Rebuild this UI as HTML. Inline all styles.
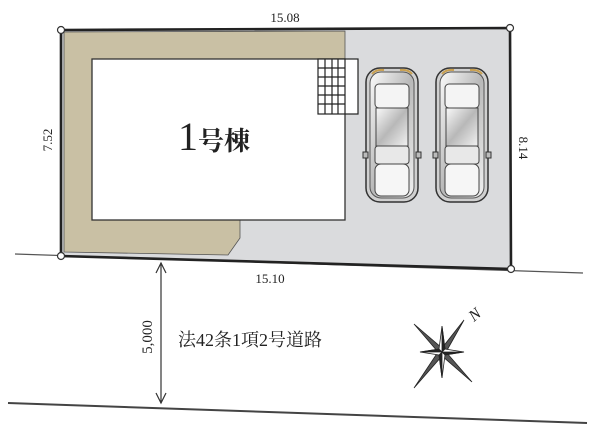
<!DOCTYPE html>
<html><head><meta charset="utf-8"><style>
html,body{margin:0;padding:0;background:#fff;width:600px;height:440px;overflow:hidden}
svg{display:block}
text{font-family:"Liberation Serif","Noto Serif CJK SC",serif;fill:#222}
</style></head><body>
<svg width="600" height="440" viewBox="0 0 600 440" xmlns="http://www.w3.org/2000/svg">
<defs>
<linearGradient id="cg" x1="0" y1="0" x2="1" y2="1">
<stop offset="0" stop-color="#fafafa"/><stop offset="0.5" stop-color="#b8b8b8"/><stop offset="1" stop-color="#f2f2f2"/>
</linearGradient>
<g id="car">
<rect x="0" y="0" width="52" height="134" rx="14" fill="#d0d0d0" stroke="#333" stroke-width="1.5"/>
<rect x="4" y="4" width="44" height="126" rx="11" fill="url(#cg)" stroke="#555" stroke-width="1"/>
<rect x="9" y="16" width="34" height="24" rx="4" fill="#f4f4f4" stroke="#444"/>
<rect x="10" y="40" width="32" height="38" fill="url(#cg)" stroke="#444"/>
<rect x="9" y="78" width="34" height="18" rx="3" fill="#e8e8e8" stroke="#444"/>
<rect x="9" y="96" width="34" height="32" rx="6" fill="#f6f6f6" stroke="#444"/>
<rect x="-3" y="84" width="5" height="6" fill="#bbb" stroke="#333"/>
<rect x="50" y="84" width="5" height="6" fill="#bbb" stroke="#333"/>
<path d="M6 6 Q10 1 18 2 M46 6 Q42 1 34 2" stroke="#c9a050" stroke-width="2" fill="none"/>
</g>
</defs>
<line x1="15" y1="254" x2="583" y2="273" stroke="#555" stroke-width="1.2"/>
<line x1="8" y1="403" x2="587" y2="423" stroke="#444" stroke-width="2"/>
<polygon points="61,30 510,28 511,269 61,256" fill="#dadbdd"/>
<path d="M64,32 L345,31 L345,59 L92,59 L92,220 L240,220 L240,238 L228,255 L64,252 Z" fill="#c9c0a4" stroke="#555" stroke-width="0.8"/>
<rect x="92" y="59" width="253" height="161" fill="#fff" stroke="#333" stroke-width="1.3"/>
<rect x="318" y="59" width="40" height="55" fill="#fff" stroke="#222" stroke-width="1.2"/>
<g stroke="#222" stroke-width="1.2">
<line x1="325" y1="59" x2="325" y2="114"/><line x1="332" y1="59" x2="332" y2="114"/><line x1="338" y1="59" x2="338" y2="114"/><line x1="345" y1="59" x2="345" y2="114"/>
<line x1="318" y1="68" x2="345" y2="68"/><line x1="318" y1="77" x2="345" y2="77"/><line x1="318" y1="86" x2="345" y2="86"/><line x1="318" y1="95" x2="345" y2="95"/><line x1="318" y1="104" x2="345" y2="104"/>
</g>
<polygon points="61,30 510,28 511,269 61,256" fill="none" stroke="#222" stroke-width="2.6"/>
<g fill="#fff" stroke="#333" stroke-width="1.2">
<circle cx="61" cy="30" r="3.5"/><circle cx="510" cy="28" r="3.5"/><circle cx="511" cy="269" r="3.5"/><circle cx="61" cy="256" r="3.5"/>
</g>
<use href="#car" x="366" y="68"/>
<use href="#car" x="436" y="68"/>
<text x="178" y="150" font-size="40">1</text>
<text x="198" y="150" font-size="26" font-weight="bold">号棟</text>
<text x="285" y="22" font-size="13" text-anchor="middle">15.08</text>
<text x="270" y="283" font-size="13" text-anchor="middle">15.10</text>
<text transform="translate(52,140) rotate(-90)" font-size="13" text-anchor="middle">7.52</text>
<text transform="translate(519,148) rotate(90)" font-size="13" text-anchor="middle">8.14</text>
<line x1="161" y1="263" x2="161" y2="403" stroke="#333" stroke-width="1.2"/>
<path d="M156,273 L161,263 L166,273 M156,393 L161,403 L166,393" stroke="#333" fill="none" stroke-width="1.2"/>
<text transform="translate(152,337) rotate(-90)" font-size="15" text-anchor="middle">5,000</text>
<text x="178" y="346" font-size="18">法42条1項2号道路</text>
<g transform="translate(442,352)" fill="#333" stroke="#222" stroke-width="0.8">
<polygon points="0,-4 22,-32 4,0 30,30 0,4 -28,36 -4,0 -28,-28" fill="#555"/>
<polygon points="0,-26 3,-3 22,0 3,3 0,26 -3,3 -22,0 -3,-3" fill="#fff"/>
<polygon points="0,-26 3,-3 0,0" fill="#222"/><polygon points="22,0 3,3 0,0" fill="#222"/><polygon points="0,26 -3,3 0,0" fill="#222"/><polygon points="-22,0 -3,-3 0,0" fill="#222"/>
</g>
<text transform="translate(474,322) rotate(-40)" font-size="16" font-style="italic">N</text>
</svg>
</body></html>
